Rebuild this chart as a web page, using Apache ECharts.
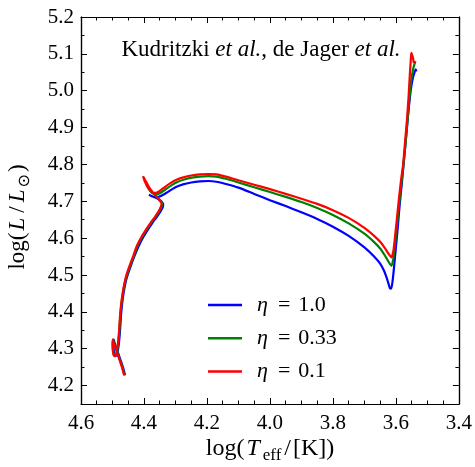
<!DOCTYPE html>
<html>
<head>
<meta charset="utf-8">
<script src="https://cdn.jsdelivr.net/npm/echarts@6/dist/echarts.min.js"></script>
<style>
  html, body { margin: 0; padding: 0; background: #fff; }
  #chart { width: 475px; height: 467px; }
</style>
</head>
<body>
<div id="chart"></div>
<script>
// tick values
const xTicks = [3.4, 3.6, 3.8, 4.0, 4.2, 4.4, 4.6];
const yTicks = [4.2, 4.3, 4.4, 4.5, 4.6, 4.7, 4.8, 4.9, 5.0, 5.1, 5.2];
const yMinorTicks = [4.25, 4.35, 4.45, 4.55, 4.65, 4.75, 4.85, 4.95, 5.05, 5.15];

const seriesNames = ["η = 1.0", "η = 0.33", "η = 0.1"];

// [log Teff, log L]
const blueTrack = [
  [4.460, 4.228], [4.467, 4.250], [4.474, 4.268], [4.482, 4.288], [4.489, 4.305],
  [4.494, 4.318], [4.496, 4.325], [4.497, 4.312], [4.496, 4.295], [4.493, 4.282],
  [4.489, 4.280], [4.485, 4.287], [4.482, 4.300], [4.479, 4.320], [4.476, 4.350],
  [4.473, 4.390], [4.469, 4.425], [4.464, 4.455], [4.458, 4.482], [4.450, 4.505],
  [4.441, 4.527], [4.430, 4.552], [4.416, 4.580], [4.402, 4.603], [4.386, 4.625],
  [4.372, 4.643], [4.359, 4.658], [4.348, 4.672], [4.341, 4.683], [4.339, 4.691],
  [4.345, 4.700], [4.356, 4.707], [4.370, 4.712], [4.384, 4.718], [4.374, 4.713],
  [4.360, 4.711], [4.345, 4.715], [4.325, 4.725], [4.300, 4.738], [4.276, 4.746],
  [4.250, 4.751], [4.223, 4.754], [4.195, 4.755], [4.170, 4.753], [4.140, 4.747],
  [4.100, 4.737], [4.050, 4.720], [4.000, 4.703], [3.950, 4.687], [3.900, 4.670],
  [3.850, 4.652], [3.800, 4.631], [3.750, 4.606], [3.700, 4.575], [3.670, 4.551],
  [3.650, 4.531], [3.638, 4.512], [3.630, 4.494], [3.624, 4.478], [3.619, 4.464],
  [3.615, 4.463], [3.611, 4.480], [3.606, 4.520], [3.600, 4.575], [3.594, 4.630],
  [3.588, 4.690], [3.581, 4.750], [3.574, 4.815], [3.567, 4.880], [3.560, 4.945],
  [3.553, 5.000], [3.546, 5.035], [3.540, 5.052], [3.537, 5.058], [3.535, 5.052]
];

const greenTrack = [
  [4.462, 4.228], [4.469, 4.250], [4.476, 4.268], [4.484, 4.288], [4.491, 4.305],
  [4.496, 4.318], [4.498, 4.325], [4.499, 4.312], [4.498, 4.295], [4.495, 4.282],
  [4.491, 4.280], [4.487, 4.287], [4.484, 4.300], [4.481, 4.320], [4.478, 4.350],
  [4.475, 4.390], [4.471, 4.425], [4.466, 4.455], [4.460, 4.482], [4.452, 4.505],
  [4.443, 4.527], [4.432, 4.552], [4.420, 4.580], [4.406, 4.603], [4.390, 4.625],
  [4.376, 4.643], [4.363, 4.658], [4.352, 4.672], [4.345, 4.684], [4.342, 4.693],
  [4.348, 4.702], [4.358, 4.711], [4.370, 4.721], [4.382, 4.733], [4.392, 4.746],
  [4.386, 4.735], [4.374, 4.722], [4.360, 4.719], [4.347, 4.723], [4.332, 4.732],
  [4.312, 4.744], [4.292, 4.753], [4.272, 4.759], [4.248, 4.764], [4.223, 4.767],
  [4.195, 4.768], [4.170, 4.767], [4.140, 4.761], [4.100, 4.751], [4.050, 4.738],
  [4.000, 4.725], [3.950, 4.712], [3.900, 4.698], [3.850, 4.682], [3.800, 4.663],
  [3.750, 4.640], [3.700, 4.612], [3.670, 4.590], [3.650, 4.572], [3.635, 4.553],
  [3.622, 4.534], [3.614, 4.525], [3.608, 4.545], [3.602, 4.590], [3.596, 4.640],
  [3.590, 4.690], [3.583, 4.745], [3.576, 4.800], [3.569, 4.860], [3.563, 4.920],
  [3.557, 4.980], [3.551, 5.030], [3.545, 5.060], [3.540, 5.075], [3.538, 5.080]
];

const redTrack = [
  [4.463, 4.228], [4.470, 4.250], [4.477, 4.268], [4.485, 4.288], [4.492, 4.305],
  [4.497, 4.318], [4.499, 4.325], [4.500, 4.312], [4.499, 4.295], [4.496, 4.282],
  [4.492, 4.280], [4.488, 4.287], [4.485, 4.300], [4.482, 4.320], [4.479, 4.350],
  [4.476, 4.390], [4.472, 4.425], [4.467, 4.455], [4.461, 4.482], [4.454, 4.505],
  [4.445, 4.527], [4.434, 4.552], [4.422, 4.580], [4.408, 4.603], [4.392, 4.625],
  [4.378, 4.643], [4.365, 4.658], [4.354, 4.672], [4.347, 4.684], [4.344, 4.693],
  [4.350, 4.702], [4.360, 4.712], [4.372, 4.724], [4.385, 4.740], [4.396, 4.757],
  [4.403, 4.768], [4.398, 4.755], [4.388, 4.738], [4.375, 4.725], [4.362, 4.723],
  [4.350, 4.728], [4.335, 4.738], [4.315, 4.750], [4.295, 4.759], [4.275, 4.765],
  [4.250, 4.770], [4.223, 4.773], [4.195, 4.774], [4.170, 4.773], [4.140, 4.767],
  [4.100, 4.757], [4.050, 4.745], [4.000, 4.733], [3.950, 4.720], [3.900, 4.707],
  [3.850, 4.693], [3.800, 4.676], [3.750, 4.655], [3.700, 4.628], [3.670, 4.607],
  [3.650, 4.590], [3.635, 4.573], [3.622, 4.556], [3.614, 4.548], [3.608, 4.565],
  [3.602, 4.610], [3.596, 4.660], [3.590, 4.710], [3.584, 4.755], [3.577, 4.800],
  [3.571, 4.860], [3.565, 4.920], [3.560, 4.980], [3.556, 5.040], [3.553, 5.080],
  [3.551, 5.103], [3.546, 5.090], [3.543, 5.075]
];

const FONT = "Liberation Serif";
const black = "#000";

const fmt = (v) => Number(v).toFixed(1);

const xAxisBase = (pos, showLabel) => ({
  type: "value",
  position: pos,
  inverse: true,
  min: 3.4,
  max: 4.6,
  interval: 0.2,
  axisLine: { show: true, lineStyle: { color: black, width: 1.2 } },
  axisTick: { show: true, inside: true, length: 6, lineStyle: { color: black, width: 1 } },
  minorTick: { show: true, splitNumber: 4, length: 3.5, lineStyle: { color: black, width: 1 } },
  splitLine: { show: false },
  axisLabel: {
    show: showLabel,
    margin: 9,
    color: black,
    fontFamily: FONT,
    fontSize: 21,
    formatter: fmt,
  },
});

const yAxisBase = (pos, ticks, len, showLabel) => ({
  type: "value",
  position: pos,
  min: 4.15,
  max: 5.2,
  axisLine: { show: true, lineStyle: { color: black, width: 1.2 } },
  axisTick: { show: true, inside: true, length: len, customValues: ticks, lineStyle: { color: black, width: 1 } },
  splitLine: { show: false },
  axisLabel: {
    show: showLabel,
    customValues: ticks,
    margin: 7,
    color: black,
    fontFamily: FONT,
    fontSize: 21,
    formatter: fmt,
  },
});

const chart = echarts.init(document.getElementById("chart"), null, { renderer: "canvas" });

const colors = ["#0000ff", "#008000", "#ff0000"];
const tracks = [blueTrack, greenTrack, redTrack];

// math-ish text pieces
const tx = (size, extra) => Object.assign({ fontFamily: FONT, fontSize: size, fill: black }, extra || {});

const option = {
  animation: false,
  backgroundColor: "#fff",
  grid: { left: 81, right: 15, top: 17, bottom: 63 },
  xAxis: [xAxisBase("bottom", true), xAxisBase("top", false)],
  yAxis: [
    yAxisBase("left", yTicks, 6, true),
    yAxisBase("right", yTicks, 6, false),
    yAxisBase("left", yMinorTicks, 3.5, false),
    yAxisBase("right", yMinorTicks, 3.5, false),
  ],
  legend: {
    orient: "vertical",
    left: 203,
    top: 289,
    icon: "rect",
    itemWidth: 34,
    itemHeight: 2.5,
    itemGap: 11.3,
    data: seriesNames,
    formatter: (name) => "{i|η}{e|=}{n|" + name.split("= ")[1] + "}",
    textStyle: {
      color: black,
      fontFamily: FONT,
      fontSize: 22,
      lineHeight: 22,
      rich: {
        i: { fontFamily: FONT, fontSize: 22, lineHeight: 22, fontStyle: "italic", color: black, padding: [0, 0, 0, 10] },
        e: { fontFamily: FONT, fontSize: 22, lineHeight: 22, color: black, padding: [0, 8, 0, 10] },
        n: { fontFamily: FONT, fontSize: 22, lineHeight: 22, color: black },
      },
    },
  },
  graphic: [
    {
      type: "text",
      x: 261,
      y: 50,
      style: {
        text: "{r|Kudritzki }{i|et al.}{r|, de Jager }{i|et al.}",
        align: "center",
        verticalAlign: "middle",
        rich: {
          r: tx(23),
          i: tx(23, { fontStyle: "italic" }),
        },
      },
    },
    {
      type: "text",
      x: 270,
      y: 451,
      style: {
        text: "{r|log(}{i|T}{s|eff}{q|/}{r|[K])}",
        align: "center",
        verticalAlign: "middle",
        rich: {
          r: tx(24, { verticalAlign: "bottom", padding: [0, 0, 5, 0] }),
          i: tx(24, { fontStyle: "italic", verticalAlign: "bottom", padding: [0, 2, 5, 2] }),
          s: tx(17, { verticalAlign: "bottom", padding: [0, 2, 1, 1] }),
          q: tx(24, { verticalAlign: "bottom", padding: [0, 2, 5, 1] }),
        },
      },
    },
    {
      type: "text",
      x: 20,
      y: 217,
      rotation: Math.PI / 2,
      style: {
        text: "{r|log(}{i|L}{q|/}{i|L}{s|⊙}{r|)}",
        align: "center",
        verticalAlign: "middle",
        rich: {
          r: tx(23, { verticalAlign: "bottom", padding: [0, 1, 5, 1] }),
          i: tx(23, { fontStyle: "italic", verticalAlign: "bottom", padding: [0, 2, 5, 1] }),
          q: tx(23, { verticalAlign: "bottom", padding: [0, 3, 5, 3] }),
          s: tx(16, { fontFamily: "DejaVu Sans", verticalAlign: "bottom", padding: [0, 1, 1, 0] }),
        },
      },
    },
  ],
  series: tracks.map((d, i) => ({
    name: seriesNames[i],
    type: "line",
    xAxisIndex: 0,
    yAxisIndex: 0,
    data: d,
    symbol: "none",
    smooth: 0.2,
    color: colors[i],
    lineStyle: { color: colors[i], width: 2.2 },
    z: 2 + i,
  })),
};

chart.setOption(option);
</script>
</body>
</html>
